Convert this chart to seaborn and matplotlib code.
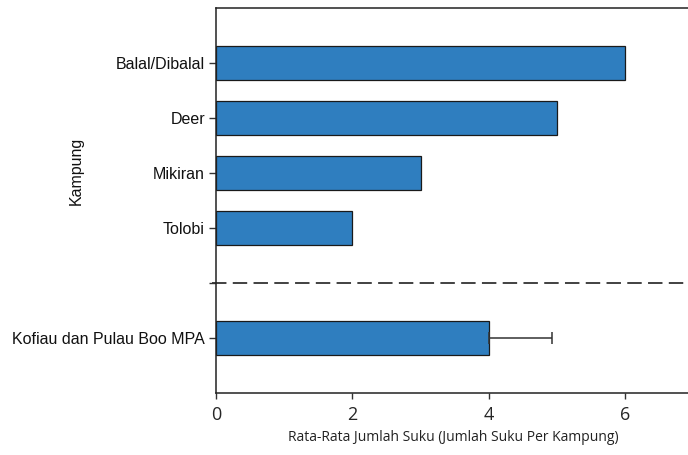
import matplotlib
matplotlib.use("Agg")
import matplotlib.pyplot as plt
import seaborn as sns
import pandas as pd

categories = ["Balal/Dibalal", "Deer", "Mikiran", "Tolobi", " ", "Kofiau dan Pulau Boo MPA"]
values = [6, 5, 3, 2, None, 4]
err_upper = [0, 0, 0, 0, 0, 0.92]
x_ticks = [0, 2, 4, 6]

sns.set_theme(style="ticks")
plt.rcParams['font.family'] = ['Liberation Sans', 'DejaVu Sans']

df = pd.DataFrame({"Kampung": categories, "Nilai": values}).dropna()

fig = plt.figure(figsize=(6.88, 4.55), dpi=100)
ax = fig.add_axes([216/688, 1 - 393/455, (690-216)/688, (393-8)/455])

sns.barplot(data=df, y="Kampung", x="Nilai", order=categories, orient="h",
            color="#2F7EBF", saturation=1, edgecolor="#1a1a1a", linewidth=0.9,
            width=0.62, errorbar=None, ax=ax)

# error bar on MPA
mpa = categories.index("Kofiau dan Pulau Boo MPA")
ax.errorbar([values[mpa]], [mpa], xerr=[[0], [err_upper[mpa]]], fmt="none",
            ecolor="#333333", elinewidth=1.1, capsize=4, capthick=1.1, zorder=3)

# dashed separator at blank category
gap = categories.index(" ")
ax.axhline(gap, xmin=-0.008, xmax=1, color="#333333", linestyle=(0, (8, 3.5)),
           linewidth=1.3, clip_on=False)

ax.set_xlim(0, 6.95)
ax.set_ylim(len(categories), -1)
ax.set_xticks(x_ticks)
ax.set_xticklabels([str(t) for t in x_ticks], fontsize=13, family=["Open Sans", "DejaVu Sans"])
ax.tick_params(axis="x", length=4, width=1, color="#333333", pad=5)
ax.tick_params(axis="y", length=5, width=1, color="#333333", labelsize=11.5, pad=3)
for lbl in ax.get_yticklabels():
    lbl.set_color("#111111")

ax.set_xlabel("Rata-Rata Jumlah Suku (Jumlah Suku Per Kampung)", fontsize=10,
              family=["Open Sans", "DejaVu Sans"], color="#222222", labelpad=5)
ax.set_ylabel("Kampung", fontsize=11.5, color="#111111")
ax.yaxis.set_label_coords((84-216)/474, 1 - (171-8)/385)

for s in ["left", "bottom", "top"]:
    ax.spines[s].set_color("#222222")
    ax.spines[s].set_linewidth(1.1)
ax.spines["right"].set_visible(False)

fig.savefig("out.png", dpi=100)
